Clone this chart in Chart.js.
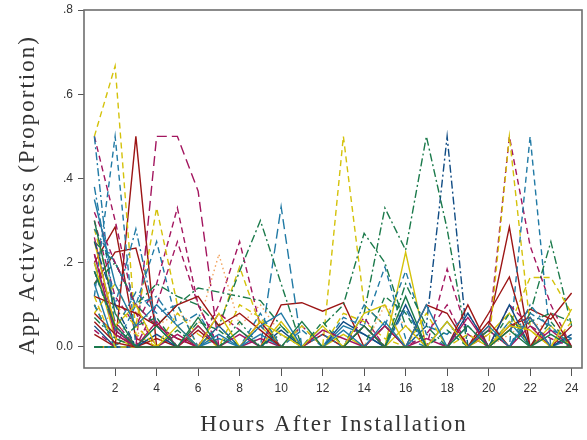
<!DOCTYPE html>
<html>
<head>
<meta charset="utf-8">
<script src="https://cdn.jsdelivr.net/npm/chart.js@4.4.1/dist/chart.umd.min.js"></script>
<style>
  html, body { margin: 0; padding: 0; background: #fff; }
  #wrap { width: 587px; height: 440px; }
</style>
</head>
<body>
<div id="wrap"><canvas id="c" width="587" height="440"></canvas></div>
<script>
// hours after installation
const hours = [1,2,3,4,5,6,7,8,9,10,11,12,13,14,15,16,17,18,19,20,21,22,23,24];
const yTickValues = [0, 0.2, 0.4, 0.6, 0.8];
const xTickValues = [2,4,6,8,10,12,14,16,18,20,22,24];
const xTitle = 'Hours After Installation';
const yTitle = 'App Activeness (Proportion)';

// app activeness per user (proportion)
const u01 = [.5,.667,.03,0,0,0,0,0,0,0,0,0,0,0,0,0,0,0,0,0,0,0,0,0];
const u02 = [.5,.04,0,0,0,.05,0,0,0,0,0,0,0,0,0,0,0,0,0,0,0,0,0,0];
const u03 = [.12,.5,0,0,0,0,0,0,0,0,0,0,0,0,0,0,0,0,0,0,0,0,0,0];
const u04 = [.38,.1,.28,.05,0,0,0,0,0,0,0,0,0,0,0,0,0,0,0,0,0,0,0,0];
const u05 = [.5,.3,.08,0,0,0,0,0,0,0,0,0,0,0,0,0,0,0,0,0,0,0,0,0];
const u06 = [.03,0,.5,0,0,0,0,0,0,0,0,0,0,0,0,0,0,0,0,0,0,0,0,0];
const u07 = [.22,.06,0,.5,.5,.37,0,0,0,0,0,0,0,0,0,0,0,0,0,0,0,0,0,0];
const u08 = [.3,.12,.05,.15,.33,.1,0,0,0,0,0,0,0,0,0,0,0,0,0,0,0,0,0,0];
const u09 = [.28,.1,.05,.33,.1,0,0,0,0,0,0,0,0,0,0,0,0,0,0,0,0,0,0,0];
const u10 = [.25,.2,.1,.15,.12,.1,.05,.18,.3,.15,0,0,0,0,0,0,0,0,0,0,0,0,0,0];
const u11 = [.2,.05,0,0,0,0,0,0,0,.333,0,0,0,0,0,0,0,0,0,0,0,0,0,0];
const u12 = [.18,.05,0,0,0,0,.1,.25,.05,0,0,0,0,0,0,0,0,0,0,0,0,0,0,0];
const u13 = [.1,.05,.03,.05,.08,.05,.22,.05,.1,.03,0,0,0,0,.1,.05,0,0,0,0,.03,.06,.04,.02];
const u14 = [0,0,0,0,0,0,0,0,0,0,0,0,.5,.1,.05,0,0,0,0,0,0,0,0,0];
const u15 = [0,0,0,0,0,0,0,0,0,0,0,.05,.1,.27,.2,.05,0,0,0,0,0,0,0,0];
const u16 = [0,0,0,0,0,0,0,0,0,0,0,0,0,.08,.33,.23,.5,.28,0,0,0,0,0,0];
const u17 = [0,0,0,0,0,0,0,0,0,0,0,0,0,0,0,0,.05,.5,0,0,0,0,0,0];
const u18 = [0,0,0,0,0,0,0,0,0,0,0,0,0,0,0,.225,0,0,0,0,0,0,0,0];
const u19 = [0,0,0,0,0,0,0,0,0,0,0,0,0,0,0,0,0,.185,.03,0,0,0,0,0];
const u20 = [0,0,0,0,0,0,0,0,0,0,0,0,0,0,0,0,0,0,0,0,.5,.05,0,0];
const u21 = [0,0,0,0,0,0,0,0,0,0,0,0,0,0,0,0,0,0,0,.03,.5,.24,.1,0];
const u22 = [0,0,0,0,0,0,0,0,0,0,0,0,0,0,0,0,0,0,0,0,0,.5,0,0];
const u23 = [0,0,0,0,0,0,0,0,0,0,0,0,0,0,0,0,0,0,0,.05,.285,0,0,0];
const u24 = [0,0,0,0,0,0,0,0,0,0,0,0,0,0,0,0,0,0,0,.08,.166,0,0,0];
const u25 = [0,0,0,0,0,0,0,0,0,0,0,0,0,0,0,0,0,0,0,0,.05,.165,.165,.08];
const u26 = [0,0,0,0,0,0,0,0,0,0,0,0,0,0,0,0,0,0,0,0,0,.08,.25,.05];
const u27 = [0,0,0,0,0,0,0,0,0,0,0,0,0,0,0,0,0,0,0,0,.04,.09,.066,.128];
const u28 = [0,0,0,0,0,0,0,0,0,.1,.105,.085,.105,0,0,0,0,0,0,0,0,0,0,0];
const u29 = [.2,.285,.02,0,0,0,0,0,0,0,0,0,0,0,0,0,0,0,0,0,0,0,0,0];
const u30 = [.15,.225,.235,.05,.02,0,0,0,0,0,0,0,0,0,0,0,0,0,0,0,0,0,0,0];
const u31 = [0,0,.1,.25,.05,0,0,0,0,0,0,0,0,0,0,0,0,0,0,0,0,0,0,0];
const u32 = [.15,.2,.1,.05,.1,.14,.13,.12,.11,.05,0,0,0,0,0,0,0,0,0,0,0,0,0,0];
const u33 = [0,0,0,0,0,0,.05,.19,.05,0,0,0,0,0,0,0,0,0,0,0,0,0,0,0];
const u34 = [0,0,0,0,0,0,0,0,0,0,0,0,0,.05,.19,.02,0,0,0,0,0,0,0,0];
const u35 = [0,0,0,0,0,0,0,0,0,0,0,0,0,0,.05,.18,.03,0,0,0,0,0,0,0];
const u36 = [0,0,0,.1,.25,.1,0,0,0,0,0,0,0,0,0,0,0,0,0,0,0,0,0,0];
const u37 = [.35,.15,.05,.1,.05,0,.03,0,.05,.08,0,0,.04,0,.06,0,.1,0,0,.05,0,.07,0,0];
const u38 = [.3,.08,0,.05,0,.07,0,.04,0,0,.06,0,0,.05,0,.12,0,0,.05,0,.04,0,.03,0];
const u39 = [.25,.05,.1,0,.05,0,.08,0,.06,.03,0,.05,0,.08,.1,0,0,.06,0,0,.05,.04,0,.09];
const u40 = [.22,.03,0,.06,0,.05,0,.03,0,0,0,.04,.02,0,.05,0,0,0,.07,0,0,.05,0,0];
const u41 = [.12,.1,.08,.05,.1,.12,.05,.08,.04,0,0,0,0,.05,0,0,.1,.08,0,.06,0,0,.08,0];
const u42 = [.18,.04,.13,.08,.1,0,.05,0,.08,0,.04,0,.07,.05,0,.09,0,0,.05,0,0,.08,.05,0];
const u43 = [.1,0,.05,.07,0,.06,.04,0,0,.05,0,.06,0,0,.12,.08,0,.04,0,0,.08,0,.06,0];
const u44 = [.08,.15,.05,0,.08,.03,0,.1,.07,0,.05,0,.08,.06,.02,0,.08,0,.03,0,.06,.04,0,.06];
const u45 = [.05,0,0,.03,0,0,.05,0,0,.04,0,0,.06,.03,0,.1,0,0,.08,0,.1,0,0,.03];
const u46 = [.32,.2,.1,.05,.02,0,.08,.04,0,0,.05,0,0,.07,0,0,.03,.1,0,0,.1,.05,.02,0];
const u47 = [.28,.2,.1,.12,.05,.08,0,0,.05,0,0,.03,0,.1,.05,0,.05,.03,.08,0,0,.1,.04,.02];
const u48 = [.07,.02,0,0,.04,0,0,.06,0,.03,0,0,0,.05,0,.15,.05,0,0,.04,0,.06,.08,.06];
const u49 = [.08,.03,0,.02,0,.04,0,0,.06,0,0,.03,0,0,.05,0,0,0,.1,0,.05,.07,0,.05];
const u50 = [.2,.02,0,0,0,.05,0,0,0,.06,0,0,.03,0,0,.05,0,0,0,.03,.08,0,.05,0];
const u51 = [.15,0,0,.05,0,0,.02,0,.03,0,0,0,.05,.03,0,0,0,.06,0,0,.06,0,0,.02];
const u52 = [.26,.04,0,0,.03,0,0,0,.02,0,0,0,0,0,0,0,.02,0,0,.04,0,0,.04,0];
const u53 = [.18,.05,0,0,0,0,0,0,0,0,0,0,0,0,0,0,0,0,0,0,0,0,0,0];
const u54 = [.06,.01,0,0,0,0,0,0,0,0,0,0,0,0,0,0,0,0,0,0,0,0,0,0];
const u55 = [.12,0,0,0,0,0,0,0,0,0,0,0,0,0,0,0,0,0,0,0,0,0,0,0];
const u56 = [.1,0,0,0,0,0,0,0,0,0,0,0,0,0,0,0,0,0,0,0,0,0,0,0];
const u57 = [.04,0,0,0,0,0,0,0,0,0,0,0,0,0,0,0,0,0,0,0,0,0,0,0];
const u58 = [.25,.1,0,0,0,0,0,0,0,0,0,0,0,0,0,0,0,0,0,0,0,0,0,0];

const colors = {
  yellow: '#d4c20a', red: '#9c1515', magenta: '#a3165f', teal: '#217aa5',
  green: '#1b7a4b', navy: '#104c84', orange: '#f2a35e'
};
const dashes = {
  solid: [], dash: [6, 4], longdash: [10, 5], dashdot: [8, 3, 2, 3], dot: [1.5, 3]
};

// [values, colour, line pattern]
const series = [
  [u53,'green','solid'], [u54,'red','solid'], [u55,'yellow','dash'], [u56,'teal','dash'],
  [u57,'magenta','dash'], [u58,'navy','dashdot'],
  [u37,'teal','solid'], [u38,'green','solid'], [u39,'yellow','solid'], [u40,'magenta','solid'],
  [u41,'red','solid'], [u42,'teal','dash'], [u43,'green','dash'], [u44,'yellow','dash'],
  [u45,'navy','solid'], [u46,'magenta','dash'], [u47,'teal','dashdot'], [u48,'green','dashdot'],
  [u49,'red','solid'], [u50,'yellow','solid'], [u51,'teal','solid'], [u52,'magenta','solid'],
  [u13,'orange','dot'],
  [u10,'green','dashdot'], [u32,'green','dashdot'], [u15,'green','dashdot'], [u16,'green','dashdot'],
  [u26,'green','dashdot'],
  [u02,'teal','dashdot'], [u03,'teal','dash'], [u04,'teal','dashdot'], [u11,'teal','longdash'],
  [u31,'teal','dash'], [u34,'teal','dash'], [u35,'teal','dash'], [u22,'teal','dash'],
  [u17,'navy','dashdot'],
  [u01,'yellow','dash'], [u09,'yellow','dash'], [u14,'yellow','dash'], [u18,'yellow','solid'],
  [u20,'yellow','dash'], [u25,'yellow','dash'], [u33,'yellow','dash'],
  [u05,'magenta','dash'], [u07,'magenta','longdash'], [u08,'magenta','dash'], [u12,'magenta','dash'],
  [u19,'magenta','dash'], [u21,'magenta','dash'], [u36,'magenta','dash'],
  [u06,'red','solid'], [u23,'red','solid'], [u24,'red','solid'], [u27,'red','solid'],
  [u28,'red','solid'], [u29,'red','solid'], [u30,'red','solid']
];

const datasets = series.map(([vals, col, pat]) => ({
  data: vals,
  borderColor: colors[col],
  borderWidth: 1.4,
  borderDash: dashes[pat],
  pointRadius: 0,
  tension: 0,
  fill: false
}));

// box round the plot area, and the two spaced-out axis titles
const frame = {
  id: 'frame',
  afterDatasetsDraw(chart){
    const a = chart.chartArea, ctx = chart.ctx;
    ctx.save();
    ctx.strokeStyle = '#6e6e6e';
    ctx.lineWidth = 1.6;
    ctx.strokeRect(a.left, a.top, a.right - a.left, a.bottom - a.top);
    ctx.restore();
  },
  afterDraw(chart){
    const a = chart.chartArea, ctx = chart.ctx;
    ctx.save();
    ctx.fillStyle = '#333';
    ctx.font = '23px "Liberation Serif"';
    ctx.letterSpacing = '2px';
    ctx.textAlign = 'center';
    ctx.textBaseline = 'middle';
    ctx.fillText(xTitle, (a.left + a.right) / 2 + 1, 425);
    ctx.translate(28, (a.top + a.bottom) / 2 + 6);
    ctx.rotate(-Math.PI / 2);
    ctx.fillText(yTitle, 0, 0);
    ctx.restore();
  }
};

new Chart(document.getElementById('c'), {
  type: 'line',
  data: { labels: hours, datasets },
  plugins: [frame],
  options: {
    responsive: false,
    animation: false,
    layout: { padding: { left: 0, right: 5, top: 10, bottom: 0 } },
    plugins: { legend: { display: false }, tooltip: { enabled: false } },
    scales: {
      x: {
        type: 'linear', min: 0.5, max: 24.5,
        afterBuildTicks: s => { s.ticks = xTickValues.map(v => ({ value: v })); },
        afterFit: s => { s.height = 72; s.paddingLeft = 0; s.paddingRight = 0; },
        border: { display: false },
        grid: { drawOnChartArea: false, drawTicks: true, tickLength: 8, color: '#555', lineWidth: 1 },
        ticks: { color: '#333', font: { family: 'Liberation Sans', size: 12 }, padding: 5, maxRotation: 0 }
      },
      y: {
        min: -0.05, max: 0.8,
        afterBuildTicks: s => { s.ticks = yTickValues.map(v => ({ value: v })); },
        afterFit: s => { s.width = 84; s.paddingTop = 0; s.paddingBottom = 0; },
        border: { display: false },
        grid: { drawOnChartArea: false, drawTicks: true, tickLength: 6, color: '#555', lineWidth: 1 },
        ticks: {
          color: '#333', font: { family: 'Liberation Sans', size: 12 }, padding: 5,
          callback: v => v === 0 ? '0.0' : '.' + Math.round(v * 10)
        }
      }
    }
  }
});
</script>
</body>
</html>
